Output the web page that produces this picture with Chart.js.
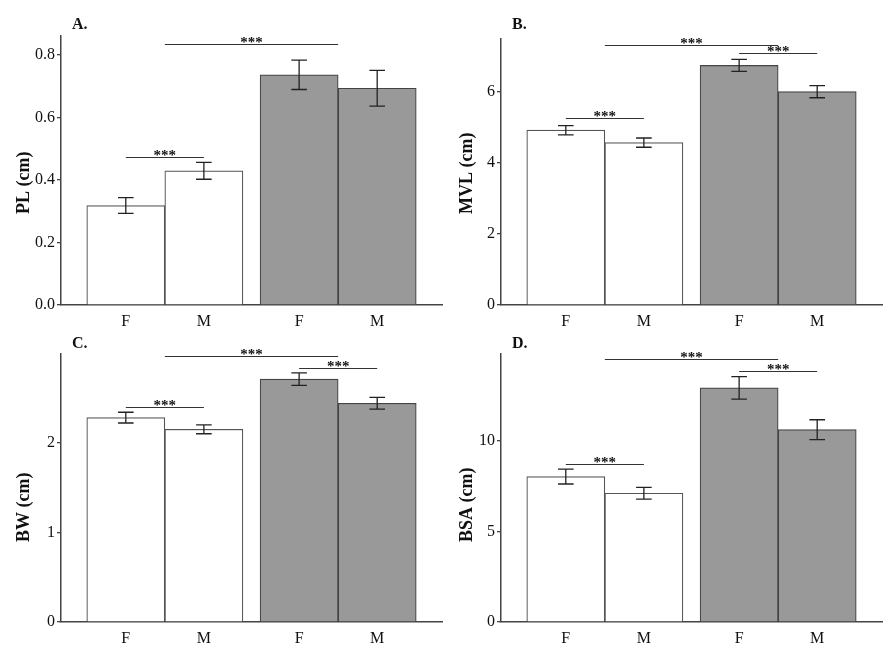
<!DOCTYPE html>
<html>
<head>
<meta charset="utf-8">
<script src="https://cdn.jsdelivr.net/npm/chart.js@4.4.0/dist/chart.umd.min.js"></script>
<style>
body { margin: 0; background: #fff; }
canvas { position: absolute; }
</style>
</head>
<body>
<canvas id="graphA" width="443" height="328" style="left:0;top:0"></canvas>
<canvas id="graphB" width="443" height="328" style="left:443px;top:0"></canvas>
<canvas id="graphC" width="443" height="329" style="left:0;top:328px"></canvas>
<canvas id="graphD" width="443" height="329" style="left:443px;top:328px"></canvas>
<script>
// data (mean, half error bar)
var sexLabels = ['F', 'M', 'F', 'M'];

var plMean = [0.318, 0.429, 0.736, 0.693];
var plErr = [0.025, 0.027, 0.047, 0.057];

var mvlMean = [4.91, 4.56, 6.73, 5.99];
var mvlErr = [0.13, 0.13, 0.17, 0.17];

var bwMean = [2.28, 2.15, 2.71, 2.44];
var bwErr = [0.06, 0.05, 0.07, 0.065];

var bsaMean = [8.03, 7.11, 12.93, 10.62];
var bsaErr = [0.41, 0.32, 0.62, 0.55];

// significance brackets: from bars, to bars, height
var plSig = [[[0, 1], [2, 3], 0.835], [[0], [1], 0.474]];
var mvlSig = [[[0, 1], [2, 3], 7.30], [[2], [3], 7.07], [[0], [1], 5.26]];
var bwSig = [[[0, 1], [2, 3], 2.97], [[2], [3], 2.83], [[0], [1], 2.40]];
var bsaSig = [[[0, 1], [2, 3], 14.55], [[2], [3], 13.85], [[0], [1], 8.71]];

var serif = "'Liberation Serif', 'Times New Roman', serif";
var groupGap = 0.22;
var xPos = sexLabels.map(function(l, i) { return i + 0.5 + (i >= 2 ? groupGap : 0); });

var extras = {
    id: 'extras',
    afterDatasetsDraw: function(chart) {
        var o = chart.options.plugins.extras;
        var ctx = chart.ctx;
        var ys = chart.scales.y;
        var bars = chart.getDatasetMeta(0).data;
        ctx.save();
        // error bars
        ctx.strokeStyle = '#222';
        ctx.lineWidth = 1.3;
        o.mean.forEach(function(m, i) {
            var cx = bars[i].x;
            var half = bars[i].width * 0.1;
            var top = ys.getPixelForValue(m + o.err[i]);
            var bot = ys.getPixelForValue(m - o.err[i]);
            ctx.beginPath();
            ctx.moveTo(cx, top); ctx.lineTo(cx, bot);
            ctx.moveTo(cx - half, top); ctx.lineTo(cx + half, top);
            ctx.moveTo(cx - half, bot); ctx.lineTo(cx + half, bot);
            ctx.stroke();
        });
        // significance lines
        var mid = function(idx) {
            var s = 0;
            idx.forEach(function(k) { s += bars[k].x; });
            return s / idx.length;
        };
        ctx.lineWidth = 1;
        ctx.strokeStyle = '#333';
        ctx.fillStyle = '#111';
        ctx.font = 'bold 15px ' + serif;
        ctx.textAlign = 'center';
        ctx.textBaseline = 'alphabetic';
        o.sig.forEach(function(s) {
            var x1 = mid(s[0]), x2 = mid(s[1]);
            var py = Math.round(ys.getPixelForValue(s[2])) + 0.5;
            ctx.beginPath();
            ctx.moveTo(x1, py); ctx.lineTo(x2, py);
            ctx.stroke();
            ctx.fillText('***', (x1 + x2) / 2, py + 2);
        });
        // panel letter and y title
        ctx.font = 'bold 16px ' + serif;
        ctx.textAlign = 'left';
        ctx.fillText(o.letter, chart.chartArea.left + 11, o.letterY);
        ctx.font = 'bold 18px ' + serif;
        ctx.translate(24, 214);
        ctx.rotate(-Math.PI / 2);
        ctx.textBaseline = 'middle';
        ctx.fillText(o.title, 0, 0);
        ctx.restore();
    }
};

function makePanel(id, letter, title, mean, err, sig, yMax, step, decimals, area, letterY) {
    var canvas = document.getElementById(id);
    var w = canvas.width, h = canvas.height;
    return new Chart(canvas.getContext('2d'), {
        type: 'bar',
        data: {
            datasets: [{
                data: xPos.map(function(x, i) { return { x: x, y: mean[i] }; }),
                backgroundColor: ['#ffffff', '#ffffff', '#999999', '#999999'],
                borderColor: ['#555555', '#555555', '#444444', '#444444'],
                borderWidth: 1.2,
                barPercentage: 1,
                categoryPercentage: 1
            }]
        },
        options: {
            responsive: false,
            animation: false,
            layout: { padding: { top: area.top, right: w - area.right, left: 0, bottom: 0 } },
            plugins: {
                legend: { display: false },
                tooltip: { enabled: false },
                extras: { mean: mean, err: err, sig: sig, letter: letter, title: title, letterY: letterY }
            },
            scales: {
                x: {
                    type: 'linear',
                    min: -0.33,
                    max: 4.55,
                    offset: false,
                    grid: { display: false, drawTicks: false, offset: false },
                    border: { color: '#444', width: 1.5 },
                    afterBuildTicks: function(s) {
                        s.ticks = xPos.map(function(v) { return { value: v }; });
                    },
                    afterFit: function(s) { s.height = h - area.bottom; },
                    ticks: {
                        callback: function(v, i) { return sexLabels[i]; },
                        font: { family: serif, size: 16 },
                        color: '#111',
                        padding: 7,
                        maxRotation: 0,
                        autoSkip: false
                    }
                },
                y: {
                    min: 0,
                    max: yMax,
                    grid: { drawOnChartArea: false, color: '#444', tickLength: 4, lineWidth: 1.3 },
                    border: { color: '#444', width: 1.5 },
                    afterFit: function(s) { s.width = area.left; },
                    ticks: {
                        stepSize: step,
                        includeBounds: false,
                        callback: function(v) { return v.toFixed(decimals); },
                        font: { family: serif, size: 16 },
                        color: '#111',
                        padding: 2
                    }
                }
            }
        },
        plugins: [extras]
    });
}

var graph1 = makePanel('graphA', 'A.', 'PL (cm)', plMean, plErr, plSig, 0.86, 0.2, 1, { left: 61, top: 36, right: 442, bottom: 305 }, 29);
var graph2 = makePanel('graphB', 'B.', 'MVL (cm)', mvlMean, mvlErr, mvlSig, 7.47, 2, 0, { left: 58, top: 39, right: 439, bottom: 305 }, 29);
var graph3 = makePanel('graphC', 'C.', 'BW (cm)', bwMean, bwErr, bwSig, 2.99, 1, 0, { left: 61, top: 26, right: 442, bottom: 294 }, 20);
var graph4 = makePanel('graphD', 'D.', 'BSA (cm)', bsaMean, bsaErr, bsaSig, 14.8, 5, 0, { left: 58, top: 26, right: 439, bottom: 294 }, 20);
</script>
</body>
</html>
